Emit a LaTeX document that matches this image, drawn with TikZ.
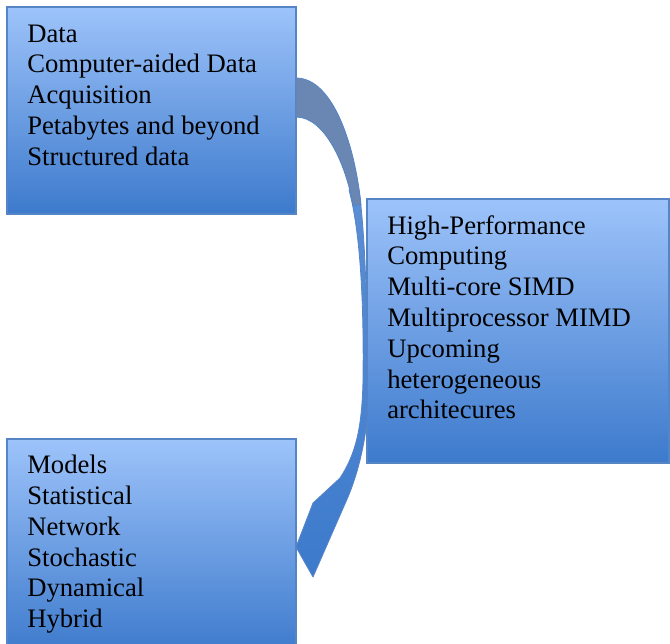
\documentclass[tikz,border=0pt]{standalone}
\usepackage{fontspec}
\setmainfont{Liberation Serif}
\usetikzlibrary{positioning,calc}
\definecolor{boxtop}{HTML}{9DC3FA}
\definecolor{boxbot}{HTML}{3D7ACC}
\definecolor{boxline}{HTML}{5685C6}
\definecolor{ribbontop}{HTML}{5B8FD6}
\definecolor{ribbonback}{HTML}{6A86B2}
\tikzset{
  panel/.style={draw=boxline, line width=0.8pt, top color=boxtop, bottom color=boxbot,
                anchor=north west, inner sep=0pt, outer sep=0pt},
  panel text/.style={anchor=north west, inner sep=0pt, align=left,
                     font=\fontsize{20}{23.1}\selectfont},
  ribbon/.style={draw=boxline, line width=0.6pt, line join=round}
}

\begin{document}
\begin{tikzpicture}[x=0.75pt, y=-0.75pt]
  \useasboundingbox (0,0) rectangle (670,643);
  \begin{scope}
    \clip (0,0) rectangle (670,643);
    % --- the three panels ---
    \node[panel, minimum width=216.75pt, minimum height=155.25pt] (data) at (7,7) {};
    \node[panel text, below right=13pt and 15pt of data.north west] (datatext)
      {Data\\Computer-aided Data\\Acquisition\\Petabytes and beyond\\Structured data};

    \node[panel, minimum width=226.5pt, minimum height=198pt] (hpc) at (367,199) {};
    \node[panel text, below right=12pt and 15pt of hpc.north west] (hpctext)
      {High-Performance\\Computing\\Multi-core SIMD\\Multiprocessor MIMD\\Upcoming\\heterogeneous\\architecures};

    \node[panel, minimum width=216.75pt, minimum height=161.25pt] (models) at (7,439) {};
    \node[panel text, below right=12pt and 15pt of models.north west] (modelstext)
      {Models\\Statistical\\Network\\Stochastic\\Dynamical\\Hybrid};

    % --- curved ribbon arrow from data to models ---
    \coordinate (tailtop) at ($(data.north east)+(0,71)$);
    \coordinate (tailbot) at ($(data.north east)+(0,110)$);
    \coordinate (tip) at ($(models.north east)+(0,108)$);
    % front face, with the head
    \draw[ribbon, top color=ribbontop, bottom color=boxbot]
      (359,190) .. controls (366,240) and (368,330) .. (367,420)
      .. controls (364,450) and (356,478) .. (348,497)
      -- (313,577) -- (tip) -- (313,503) -- (340,478)
      .. controls (355,455) and (362,430) .. (363,380)
      .. controls (364,300) and (360,230) .. (349,190) -- cycle;
    % back face
    \draw[ribbon, fill=ribbonback]
      (tailtop) .. controls (333,78) and (355,145) .. (361,205)
      -- (353,205) .. controls (346,165) and (325,117) .. (tailbot) -- cycle;
  \end{scope}
\end{tikzpicture}
\end{document}
